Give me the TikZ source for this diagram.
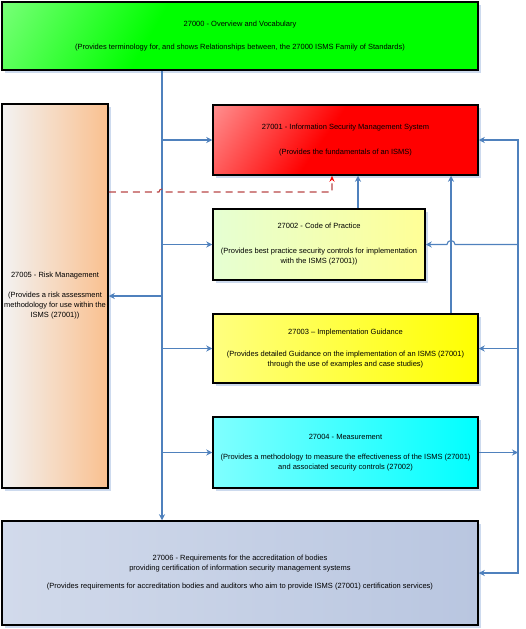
\documentclass[tikz,border=0pt]{standalone}
\usepackage{fontspec}
\setmainfont{Liberation Sans}
\usetikzlibrary{shadows,calc,arrows.meta}

\definecolor{linkblue}{RGB}{79,129,189}
\definecolor{dashred}{RGB}{185,70,70}
\definecolor{shadowblue}{RGB}{205,218,238}
\definecolor{isogreen}{RGB}{0,255,0}
\definecolor{isored}{RGB}{255,0,0}
\definecolor{paleyellow}{RGB}{255,255,150}
\definecolor{isoyellow}{RGB}{255,255,0}
\definecolor{isocyan}{RGB}{0,255,255}
\definecolor{isoorange}{RGB}{250,192,143}
\definecolor{isoslate}{RGB}{185,198,224}

% corner fades (top = pale corner)
\pgfdeclareverticalshading{greenfade}{100bp}{color(0bp)=(isogreen); color(62bp)=(isogreen); color(100bp)=(white!80!isogreen)}
\pgfdeclareverticalshading{redfade}{100bp}{color(0bp)=(isored); color(55bp)=(isored); color(100bp)=(white!85!isored)}

\tikzset{
  stdbox/.style={draw=black, line width=1.5pt, inner sep=0pt, align=center,
    font=\fontsize{7.5}{10}\selectfont,
    drop shadow={shadow xshift=3pt, shadow yshift=-3pt, fill=shadowblue, opacity=1}},
  link/.style={draw=linkblue, line width=1.1pt, -{Stealth[length=6pt,width=6pt,inset=2pt]}},
  dashlink/.style={draw=dashred, line width=1.1pt, dash pattern=on 7pt off 5pt,
    -{Stealth[length=6pt,width=5pt,inset=2pt,color=red]}}
}

\begin{document}
\begin{tikzpicture}[x=1pt,y=-1pt]
\useasboundingbox (0,0) rectangle (525,629);

% boxes
\node[stdbox, minimum width=476, minimum height=68, shading=greenfade, shading angle=60]
  (ov) at (240,36) {27000 - Overview and Vocabulary\\[13pt](Provides terminology for, and shows Relationships between, the 27000 ISMS Family of Standards)};

\node[stdbox, minimum width=265, minimum height=70, shading=redfade, shading angle=55]
  (isms) at (345.5,140) {27001 - Information Security Management System\\[15pt](Provides the fundamentals of an ISMS)};

\node[stdbox, minimum width=212, minimum height=71,
  left color=white!80!paleyellow!90!green, right color=paleyellow]
  (cop) at (319,244.5) {27002 - Code of Practice\\[15pt](Provides best practice security controls for implementation\\with the ISMS (27001))};

\node[stdbox, minimum width=265, minimum height=69,
  left color=white!50!isoyellow, middle color=isoyellow, right color=isoyellow]
  (impl) at (345.5,348.5) {27003 -- Implementation Guidance\\[12pt](Provides detailed Guidance on the implementation of an ISMS (27001)\\through the use of examples and case studies)};

\node[stdbox, minimum width=265, minimum height=71,
  left color=white!50!isocyan, middle color=isocyan, right color=isocyan]
  (meas) at (345.5,452.5) {27004 - Measurement\\[10pt](Provides a methodology to measure the effectiveness of the ISMS (27001)\\and associated security controls (27002)};

\node[stdbox, minimum width=106, minimum height=384,
  left color=white!95!black, middle color=isoorange!75!white, right color=isoorange]
  (risk) at (55,296) {27005 - Risk Management\\[10pt](Provides a risk assessment\\methodology for use within the\\ISMS (27001))};

\node[stdbox, minimum width=476, minimum height=104,
  left color=white!35!isoslate, right color=isoslate]
  (accr) at (240,573) {27006 - Requirements for the accreditation of bodies\\providing certification of information security management systems\\[8pt](Provides requirements for accreditation bodies and auditors who aim to provide ISMS (27001) certification services)};

% routing columns
\coordinate (tx) at (162,0);
\coordinate (rx) at (518,0);
\coordinate (cx) at (358,0);
\coordinate (jx) at (451,0);
\coordinate (dz) at (332,192);

% left trunk
\draw[link] (ov.south -| tx) -- (accr.north -| tx);
\draw[link] (tx |- isms.west) -- (isms.west);
\draw[link] (tx |- cop.west) -- (cop.west);
\draw[link] (tx |- risk.east) -- (risk.east);
\draw[link] (tx |- impl.west) -- (impl.west);
\draw[link] (tx |- meas.west) -- (meas.west);

% right return line
\draw[link, {Stealth[length=6pt,width=6pt,inset=2pt]}-{Stealth[length=6pt,width=6pt,inset=2pt]}]
  (isms.east) -- (isms.east -| rx) -- (accr.east -| rx) -- (accr.east);
\draw[link] (cop.east -| rx) -- ($(cop.east -| jx)+(4,0)$) arc (0:180:4pt) -- (cop.east);
\draw[link] (impl.east -| rx) -- (impl.east);
\draw[link] (meas.east) -- (meas.east -| rx);

% feeds into 27001
\draw[link] (cop.north -| cx) -- (isms.south -| cx);
\draw[link] (impl.north -| jx) -- (isms.south -| jx);

% risk management link
\draw[dashlink] (risk.east |- dz) -- ($(tx |- dz)+(-3,0)$) arc (180:0:3pt) -- (dz) -- (isms.south -| dz);

\end{tikzpicture}
\end{document}
